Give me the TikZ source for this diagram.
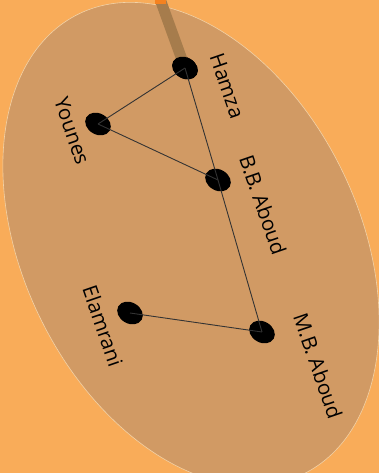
\documentclass[tikz,border=0pt]{standalone}
\usepackage{fontspec}
\setsansfont{Open Sans}
\usetikzlibrary{
  shapes.geometric
}
\definecolor{backorange}{HTML}{F9AC59}
\definecolor{groupfill}{HTML}{D19A64}
\definecolor{groupedge}{HTML}{F3D2A6}
\definecolor{linkbrown}{HTML}{A67C4C}
\definecolor{tiporange}{HTML}{F58220}

\begin{document}
\begin{tikzpicture}[
  x=1pt, y=-1pt,
  person/.style = {shape=ellipse, fill=black, inner sep=0pt,
    minimum width=27pt, minimum height=21pt, rotate=-30},
  who/.style = {rotate=-71, font=\sffamily\fontsize{20.5}{20.5}\selectfont,
    text=black, inner sep=0pt},
  tie/.style = {draw=black!80, line width=0.9pt}]
  \useasboundingbox (0,0) rectangle (379,473);
  \clip (0,0) rectangle (379,473);
  \fill[backorange] (0,0) rectangle (379,473);
  \filldraw[fill=groupfill, draw=groupedge, line width=0.6pt,
    rotate around={-64:(191,244)}]
    (191,244) ellipse [x radius=256pt, y radius=168pt];
  \coordinate (far) at (160,-1);
  \node (hamza)    [person] at (185,68)  {};
  \node (younes)   [person] at (98,124)  {};
  \node (bbaboud)  [person] at (218,180) {};
  \node (elamrani) [person] at (130,313) {};
  \node (mbaboud)  [person] at (262,332) {};
  \draw[linkbrown, line width=11pt] (far) -- (hamza.center);
  \node (farbox) [fill=tiporange, minimum width=11pt, minimum height=11pt,
    inner sep=0pt] at (far) {};
  \node (hamza) [person] at (185,68) {};
  \node (hamzaname)    [who] at (227,86)  {Hamza};
  \node (younesname)   [who] at (72,131)  {Younes};
  \node (bbaboudname)  [who] at (263,205) {B.B. Aboud};
  \node (elamraniname) [who] at (103,326) {Elamrani};
  \node (mbaboudname)  [who] at (318,366) {M.B. Aboud};
  \draw[tie] (hamza.center) -- (younes.center);
  \draw[tie] (younes.center) -- (bbaboud.center);
  \draw[tie] (hamza.center) -- (bbaboud.center);
  \draw[tie] (bbaboud.center) -- (mbaboud.center);
  \draw[tie] (elamrani.center) -- (mbaboud.center);
\end{tikzpicture}
\end{document}
